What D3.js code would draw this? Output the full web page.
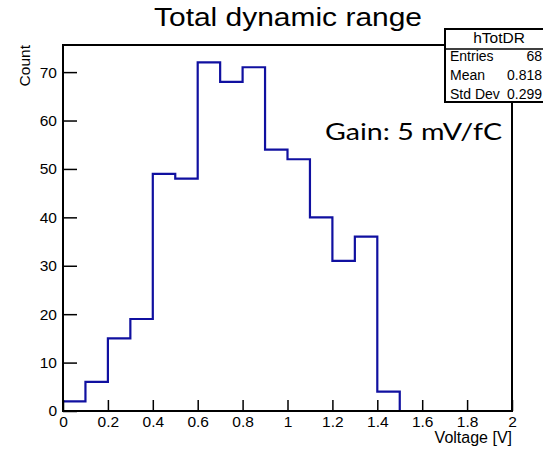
<!DOCTYPE html>
<html>
<head>
<meta charset="utf-8">
<script src="https://cdn.jsdelivr.net/npm/d3@7"></script>
<style>
  html, body { margin: 0; padding: 0; background: #fff; }
  svg { display: block; }
  text { font-family: "Liberation Sans", Arial, sans-serif; fill: #000; }
</style>
</head>
<body>
<svg id="chart" width="543" height="450"></svg>
<script>
// Histogram hTotDR: counts per 0.1 V bin from 0 to 2 V
const binLowEdges = [0.0, 0.1, 0.2, 0.3, 0.4, 0.5, 0.6, 0.7, 0.8, 0.9,
                     1.0, 1.1, 1.2, 1.3, 1.4, 1.5, 1.6, 1.7, 1.8, 1.9];
const counts      = [2, 6, 15, 19, 49, 48, 72, 68, 71, 54,
                     52, 40, 31, 36, 4, 0, 0, 0, 0, 0];
const xMax = 2.0;
const xTickLabels = ["0", "0.2", "0.4", "0.6", "0.8", "1", "1.2", "1.4", "1.6", "1.8", "2"];
const yTickValues = [0, 10, 20, 30, 40, 50, 60, 70];

// Statistics box contents (the box runs past the right edge of the canvas)
const statsTitle = "hTotDR";
const statsNames = ["Entries", "Mean", "Std Dev"];
const statsValues = ["68", "0.818", "0.299"];

const svg = d3.select("#chart");
const frame = { left: 63, right: 512, top: 45, bottom: 411 };
const yTop = d3.max(counts) * 1.05;

const x = d3.scaleLinear().domain([0, xMax]).range([frame.left, frame.right]);
const y = d3.scaleLinear().domain([0, yTop]).range([frame.bottom, frame.top]);

// Title
svg.append("text")
  .attr("x", 288).attr("y", 26)
  .attr("text-anchor", "middle")
  .attr("font-size", 25)
  .attr("textLength", 268).attr("lengthAdjust", "spacingAndGlyphs")
  .text("Total dynamic range");

// Histogram outline (step line)
const pts = binLowEdges.map((e, i) => [e, counts[i]]);
pts.push([xMax, counts[counts.length - 1]]);
const step = d3.line()
  .x(d => x(d[0]))
  .y(d => y(d[1]))
  .curve(d3.curveStepAfter);
svg.append("path")
  .attr("d", step(pts))
  .attr("fill", "none")
  .attr("stroke", "#1010a0")
  .attr("stroke-width", 2.2);

// X axis: minor ticks every 0.04, major every 0.2 with labels
const xMinor = d3.range(0, 51).map(i => i * 0.04).filter(v => Math.abs(v / 0.2 - Math.round(v / 0.2)) > 1e-6);
const xMajor = xTickLabels.map(s => +s);
const gx = svg.append("g").attr("transform", `translate(0,${frame.bottom})`);
gx.call(d3.axisBottom(x).tickValues(xMinor).tickSize(-5).tickFormat(""));
gx.call(d3.axisBottom(x).tickValues(xMajor).tickSize(-11).tickPadding(5)
  .tickFormat((d, i) => xTickLabels[i]));
gx.selectAll(".domain").remove();
gx.selectAll("line").attr("stroke", "#000").attr("stroke-width", 1.5);
gx.selectAll("text").attr("font-size", 15.5).attr("fill", "#000")
  .style("font-family", "Liberation Sans, Arial, sans-serif");

// Y axis: minor ticks every 2, major every 10 with labels
const yMinor = d3.range(0, 76, 2).filter(v => v % 10 !== 0 && v <= yTop);
const gy = svg.append("g").attr("transform", `translate(${frame.left},0)`);
gy.call(d3.axisLeft(y).tickValues(yMinor).tickSize(-7).tickFormat(""));
gy.call(d3.axisLeft(y).tickValues(yTickValues).tickSize(-14).tickPadding(6)
  .tickFormat(d3.format("d")));
gy.selectAll(".domain").remove();
gy.selectAll("line").attr("stroke", "#000").attr("stroke-width", 1.5);
gy.selectAll("text").attr("font-size", 15.5).attr("fill", "#000")
  .style("font-family", "Liberation Sans, Arial, sans-serif");

// Frame
svg.append("rect")
  .attr("x", frame.left).attr("y", frame.top)
  .attr("width", frame.right - frame.left).attr("height", frame.bottom - frame.top)
  .attr("fill", "none").attr("stroke", "#000").attr("stroke-width", 2);

// Axis titles
svg.append("text")
  .attr("x", frame.right).attr("y", 443)
  .attr("text-anchor", "end")
  .attr("font-size", 16)
  .text("Voltage [V]");
svg.append("text")
  .attr("transform", `translate(30,${frame.top}) rotate(-90)`)
  .attr("text-anchor", "end")
  .attr("font-size", 15.5)
  .text("Count");

// Annotation
svg.append("text")
  .attr("x", 325).attr("y", 140)
  .attr("font-size", 23)
  .attr("textLength", 177).attr("lengthAdjust", "spacingAndGlyphs")
  .style("font-family", "Lato, 'Open Sans', sans-serif")
  .text("Gain: 5 mV/fC");

// Statistics box
const sb = { x: 445, y: 29, w: 110, h: 73, headerH: 20 };
const stats = svg.append("g");
stats.append("rect")
  .attr("x", sb.x).attr("y", sb.y).attr("width", sb.w).attr("height", sb.h)
  .attr("fill", "#fff").attr("stroke", "#000").attr("stroke-width", 2);
stats.append("line")
  .attr("x1", sb.x).attr("x2", sb.x + sb.w)
  .attr("y1", sb.y + sb.headerH).attr("y2", sb.y + sb.headerH)
  .attr("stroke", "#000").attr("stroke-width", 1.5);
stats.append("text")
  .attr("x", 499).attr("y", 43)
  .attr("text-anchor", "middle").attr("font-size", 15.5)
  .text(statsTitle);
const rowY = [61, 80, 99];
statsNames.forEach((n, i) => {
  stats.append("text").attr("x", 450).attr("y", rowY[i]).attr("font-size", 14).text(n);
  stats.append("text").attr("x", 542).attr("y", rowY[i])
    .attr("text-anchor", "end").attr("font-size", 14).text(statsValues[i]);
});
</script>
</body>
</html>
